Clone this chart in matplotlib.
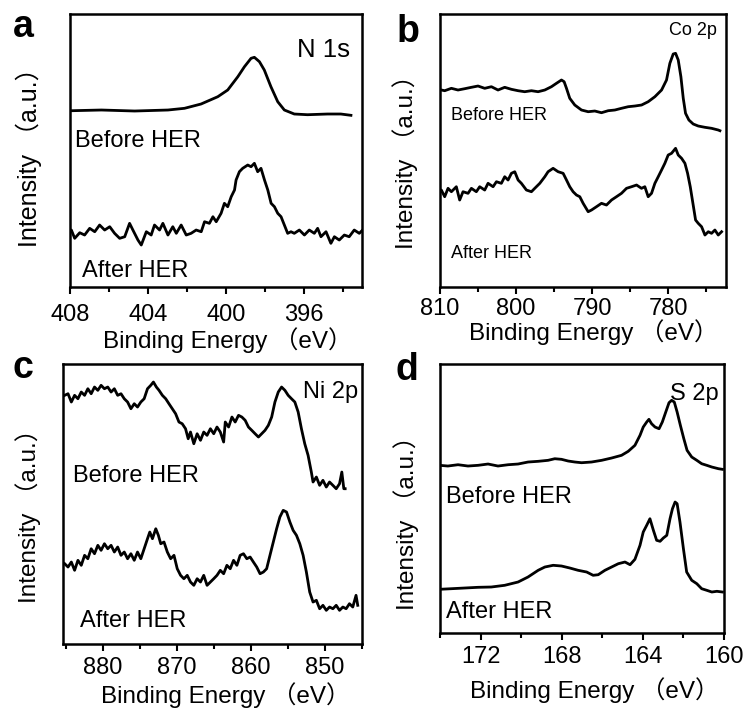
import matplotlib
matplotlib.use("Agg")
import matplotlib.pyplot as plt
from matplotlib.ticker import MultipleLocator

plt.rcParams['font.family'] = ['Liberation Sans', 'Noto Sans CJK SC']

# ---- (a) N 1s ----
be_a_before = [407.93, 406.39, 404.68, 402.97, 402.12, 401.27, 400.41, 399.90, 399.38, 399.04,
               398.70, 398.53, 398.27, 398.02, 397.68, 397.33, 396.99, 396.48, 395.80, 394.77,
               394.09, 393.57]
int_a_before = [176.3, 177.0, 176.0, 177.0, 178.7, 183.0, 190.3, 197.0, 210.3, 220.3,
                228.7, 229.7, 225.3, 217.0, 200.3, 185.3, 177.0, 173.0, 172.3, 173.0,
                173.0, 171.7]
be_a_after = [408.10, 407.93, 407.76, 407.50, 407.25, 406.99, 406.73, 406.48, 406.22, 405.96,
              405.71, 405.45, 405.19, 404.94, 404.77, 404.51, 404.34, 404.08, 403.83, 403.66,
              403.40, 403.23, 402.97, 402.72, 402.54, 402.29, 402.03, 401.78, 401.52, 401.26,
              401.09, 400.84, 400.66, 400.49, 400.24, 400.07, 399.90, 399.72, 399.55, 399.47,
              399.30, 399.13, 398.87, 398.70, 398.53, 398.36, 398.19, 398.01, 397.84, 397.67,
              397.50, 397.33, 397.16, 396.99, 396.82, 396.65, 396.48, 396.22, 395.96, 395.71,
              395.45, 395.28, 395.11, 394.85, 394.60, 394.42, 394.17, 393.91, 393.66, 393.40,
              393.14, 392.97]
int_a_after = [53.7, 57.0, 48.7, 54.3, 52.0, 58.7, 55.3, 62.0, 57.0, 60.3,
               53.7, 48.7, 50.3, 63.7, 57.0, 47.0, 42.0, 55.3, 52.0, 62.0,
               57.0, 63.7, 52.0, 60.3, 53.7, 62.0, 52.0, 53.7, 57.0, 55.3,
               65.3, 63.7, 70.3, 65.3, 73.7, 83.7, 80.3, 90.3, 97.0, 107.0,
               115.3, 118.7, 122.0, 120.3, 123.7, 115.3, 118.7, 107.0, 97.0, 83.7,
               80.3, 73.7, 70.3, 62.0, 53.7, 55.3, 53.7, 57.0, 52.0, 57.0,
               53.7, 58.7, 50.3, 55.3, 43.7, 50.3, 47.0, 52.0, 50.3, 57.0,
               53.7, 57.0]

# ---- (b) Co 2p ----
be_b_before = [810.26, 809.38, 808.50, 807.63, 806.75, 805.87, 805.00, 804.12, 803.24, 802.37,
               801.49, 800.61, 799.73, 798.86, 797.98, 797.10, 796.22, 795.35, 794.69, 794.03,
               793.68, 793.37, 792.94, 792.28, 791.40, 790.52, 789.65, 788.77, 787.89, 787.01,
               786.14, 785.26, 784.38, 783.50, 782.63, 781.75, 780.87, 780.22, 779.78, 779.34,
               779.03, 778.68, 778.33, 778.02, 777.72, 777.28, 776.71, 776.05, 775.17, 774.30,
               773.42, 773.20]
int_b_before = [197.7, 196.3, 198.7, 197.0, 198.3, 199.7, 201.0, 198.7, 200.3, 197.0,
                199.7, 197.7, 196.3, 195.3, 196.3, 195.3, 197.0, 200.3, 203.7, 207.0,
                205.3, 198.7, 188.7, 182.0, 177.0, 175.3, 176.0, 174.3, 176.3, 177.0,
                178.7, 180.3, 181.0, 182.0, 185.3, 190.3, 197.0, 207.0, 223.7, 233.0,
                233.7, 227.0, 210.3, 188.7, 173.7, 167.0, 163.0, 161.0, 159.7, 158.7,
                157.0, 156.3]
be_b_after = [810.26, 809.82, 809.38, 808.94, 808.50, 807.85, 807.41, 806.97, 806.31, 805.87,
              805.22, 804.78, 804.12, 803.68, 803.02, 802.58, 801.93, 801.49, 801.05, 800.61,
              800.17, 799.73, 799.30, 798.64, 797.98, 797.54, 796.88, 796.22, 795.79, 795.13,
              794.47, 793.81, 793.37, 792.94, 792.50, 792.06, 791.62, 791.18, 790.52, 790.08,
              789.43, 788.77, 788.11, 787.45, 786.80, 786.14, 785.48, 784.82, 784.16, 783.51,
              783.07, 782.63, 782.19, 781.75, 781.31, 780.87, 780.44, 780.00, 779.56, 779.03,
              778.68, 778.24, 777.80, 777.45, 777.10, 776.75, 776.40, 776.05, 775.61, 775.17,
              774.73, 774.30, 773.86, 773.42, 772.98]
int_b_after = [92.0, 97.0, 90.3, 98.7, 95.3, 100.3, 87.0, 95.3, 93.7, 98.7,
               95.3, 100.3, 97.0, 103.7, 100.3, 105.3, 103.7, 110.3, 107.0, 113.7,
               115.3, 107.0, 103.7, 97.0, 95.3, 98.7, 103.7, 110.3, 115.3, 118.7,
               115.3, 113.7, 107.0, 100.3, 95.3, 92.0, 90.3, 83.7, 75.3, 77.0,
               80.3, 83.7, 82.0, 87.0, 90.3, 93.7, 98.7, 100.3, 102.0, 98.7,
               100.3, 90.3, 93.7, 103.7, 110.3, 117.0, 123.7, 132.0, 133.7, 138.7,
               132.0, 128.7, 123.7, 113.7, 100.3, 83.7, 67.0, 63.7, 60.3, 52.0,
               55.3, 53.7, 57.0, 52.0, 55.3]

# ---- (c) Ni 2p ----
be_c_before = [885.17, 884.72, 884.27, 883.83, 883.38, 882.93, 882.48, 882.04, 881.59, 881.14,
               880.69, 880.25, 879.80, 879.35, 878.90, 878.46, 878.01, 877.56, 877.12, 876.67,
               876.22, 875.77, 875.33, 874.88, 874.43, 873.98, 873.54, 873.18, 872.78, 872.42,
               871.97, 871.52, 871.08, 870.63, 870.18, 869.73, 869.29, 868.84, 868.48, 868.17,
               867.72, 867.27, 866.82, 866.38, 865.93, 865.48, 865.03, 864.59, 864.14, 863.69,
               863.47, 863.02, 862.57, 862.13, 861.68, 861.23, 860.78, 860.34, 859.89, 859.44,
               858.99, 858.55, 858.10, 857.65, 857.20, 856.76, 856.31, 855.86, 855.41, 854.97,
               854.52, 854.07, 853.62, 853.18, 852.73, 852.28, 851.84, 851.61, 851.16, 850.72,
               850.27, 849.82, 849.38, 848.93, 848.48, 848.03, 847.72, 847.45, 847.27]
int_c_before = [248.7, 250.3, 242.0, 248.7, 245.3, 252.0, 248.7, 255.3, 250.3, 257.0,
                253.7, 258.7, 255.3, 257.0, 252.0, 255.3, 248.7, 250.3, 245.3, 242.0,
                235.3, 240.3, 237.0, 242.0, 245.3, 255.3, 258.7, 262.0, 257.0, 253.7,
                248.7, 245.3, 240.3, 235.3, 230.3, 222.0, 220.3, 215.3, 205.3, 212.0,
                200.3, 210.3, 203.7, 212.0, 208.7, 215.3, 210.3, 217.0, 212.0, 202.0,
                222.0, 217.0, 227.0, 222.0, 228.7, 227.0, 223.7, 217.0, 213.7, 210.3,
                207.0, 210.3, 213.7, 218.7, 227.0, 242.0, 252.0, 257.0, 253.7, 248.7,
                245.3, 242.0, 232.0, 215.3, 200.3, 188.7, 172.0, 162.0, 167.0, 158.7,
                163.7, 157.0, 162.0, 158.7, 155.3, 160.3, 172.0, 155.3, 155.3]
be_c_after = [885.17, 884.72, 884.27, 883.83, 883.38, 882.93, 882.48, 882.04, 881.59, 881.14,
              880.69, 880.25, 879.80, 879.35, 878.90, 878.46, 878.01, 877.56, 877.12, 876.67,
              876.22, 875.77, 875.33, 874.88, 874.43, 873.98, 873.67, 873.31, 872.86, 872.51,
              872.19, 871.75, 871.30, 870.85, 870.40, 869.96, 869.51, 869.06, 868.61, 868.17,
              867.72, 867.27, 866.82, 866.38, 865.93, 865.48, 865.03, 864.59, 864.14, 863.69,
              863.25, 862.80, 862.35, 861.90, 861.46, 861.01, 860.56, 860.11, 859.67, 859.22,
              858.77, 858.32, 857.88, 857.43, 856.98, 856.53, 856.09, 855.64, 855.19, 854.74,
              854.30, 853.85, 853.40, 852.95, 852.51, 852.06, 851.61, 851.16, 850.72, 850.27,
              849.82, 849.38, 848.93, 848.48, 848.03, 847.58, 847.14, 846.69, 846.24, 845.80,
              845.57]
int_c_after = [80.3, 77.0, 82.0, 73.7, 83.7, 78.7, 88.7, 85.3, 95.3, 90.3,
               98.7, 93.7, 100.3, 95.3, 98.7, 92.0, 97.0, 88.7, 92.0, 85.3,
               90.3, 83.7, 92.0, 85.3, 95.3, 105.3, 112.0, 105.3, 115.3, 108.7,
               100.3, 102.0, 92.0, 85.3, 88.7, 75.3, 68.7, 65.3, 68.7, 62.0,
               58.7, 65.3, 62.0, 68.7, 58.7, 62.0, 65.3, 68.7, 73.7, 70.3,
               78.7, 75.3, 83.7, 78.7, 88.7, 90.3, 85.3, 87.0, 82.0, 77.0,
               70.3, 72.0, 75.3, 88.7, 102.0, 115.3, 127.0, 133.7, 132.0, 122.0,
               113.7, 108.7, 100.3, 88.7, 72.0, 52.0, 42.0, 43.7, 35.3, 38.7,
               33.7, 37.0, 35.3, 38.7, 33.7, 37.0, 35.3, 40.3, 37.0, 48.7,
               38.7]

# ---- (d) S 2p ----
be_d_before = [174.02, 173.61, 173.11, 172.62, 172.12, 171.63, 171.14, 170.64, 170.15, 169.66,
               169.16, 168.67, 168.34, 168.01, 167.68, 167.35, 167.02, 166.53, 166.03, 165.54,
               165.05, 164.72, 164.39, 164.14, 163.98, 163.81, 163.70, 163.57, 163.40, 163.20,
               163.04, 162.87, 162.71, 162.58, 162.45, 162.31, 162.15, 161.98, 161.82, 161.59,
               161.34, 161.10, 160.85, 160.60, 160.27, 160.08]
int_d_before = [167.7, 167.0, 168.3, 167.0, 167.7, 169.0, 167.0, 168.3, 169.0, 171.0,
                171.7, 172.7, 174.3, 173.7, 172.0, 171.0, 170.3, 171.0, 172.7, 175.0,
                177.7, 181.7, 187.7, 197.7, 206.0, 211.0, 213.7, 209.3, 206.0, 204.3,
                211.0, 221.0, 230.3, 232.7, 231.0, 221.0, 207.7, 194.3, 182.7, 176.0,
                172.7, 169.3, 167.7, 166.0, 164.3, 163.7]
be_d_after = [174.02, 173.44, 172.78, 172.12, 171.47, 170.81, 170.15, 169.66, 169.16, 168.83,
              168.42, 168.01, 167.60, 167.19, 166.77, 166.45, 166.20, 165.87, 165.54, 165.21,
              164.88, 164.63, 164.39, 164.14, 163.98, 163.81, 163.65, 163.48, 163.32, 163.15,
              162.99, 162.82, 162.66, 162.54, 162.41, 162.31, 162.17, 162.00, 161.84, 161.59,
              161.34, 161.10, 160.85, 160.60, 160.35, 160.08]
int_d_after = [43.7, 44.3, 45.0, 45.7, 46.0, 47.7, 51.0, 56.0, 62.7, 66.0,
               67.7, 67.0, 65.0, 62.7, 61.0, 57.7, 58.3, 62.7, 66.0, 69.3,
               71.0, 68.3, 73.7, 87.7, 101.0, 107.7, 114.3, 102.7, 92.7, 91.7,
               95.0, 97.7, 114.3, 124.3, 131.0, 129.3, 111.0, 84.3, 61.0, 52.7,
               49.3, 44.3, 42.7, 41.0, 41.7, 41.0]

PANELS = [
    dict(letter='a', title='N 1s', xlim=(408, 393.0), ylim=(0, 273), major=4, minor=2,
         before=(be_a_before, int_a_before), after=(be_a_after, int_a_after)),
    dict(letter='b', title='Co 2p', xlim=(810, 772.4), ylim=(0, 273), major=10, minor=5,
         before=(be_b_before, int_b_before), after=(be_b_after, int_b_after)),
    dict(letter='c', title='Ni 2p', xlim=(885.4, 845), ylim=(0, 280), major=10, minor=5,
         before=(be_c_before, int_c_before), after=(be_c_after, int_c_after)),
    dict(letter='d', title='S 2p', xlim=(174, 160), ylim=(0, 269), major=4, minor=2,
         before=(be_d_before, int_d_before), after=(be_d_after, int_d_after)),
]

# layout (figure fractions) and text placement per panel
RECTS = [(0.0936, 0.5963, 0.3904, 0.3840), (0.5882, 0.5963, 0.3824, 0.3840),
         (0.0842, 0.0942, 0.3997, 0.3938), (0.5882, 0.1097, 0.3797, 0.3783)]
LETTER_POS = [(0.017, 0.948), (0.530, 0.941), (0.017, 0.468), (0.529, 0.4655)]
TEXT_SIZE = [17, 13, 17, 17]
TITLE_SIZE = [18.5, 13, 17, 17]
TITLE_POS = [(0.959, 0.842), (0.969, 0.923), (0.987, 0.879), (0.982, 0.866)]
BEFORE_POS = [(0.017, 0.513), (0.038, 0.612), (0.033, 0.579), (0.021, 0.483)]
AFTER_POS = [(0.041, 0.037), (0.038, 0.106), (0.057, 0.061), (0.021, 0.056)]
# the full-width brackets carry blank space, so the labels sit a little off-centre
XLABEL_POS = [(0.541, -0.195), (0.538, -0.165), (0.543, -0.182), (0.546, -0.212)]
YLABEL_POS = [(-0.140, 0.498), (-0.122, 0.479), (-0.117, 0.479), (-0.120, 0.431)]
YLABEL_SIZE = [18, 17.5, 17.5, 17.5]
TICK_PAD = [7, 3, 4, 4]


def draw_panel(fig, i, p):
    ax = fig.add_axes(RECTS[i])
    x, y = p['before']
    ax.plot(x, y, color='black', lw=2.0)
    x, y = p['after']
    ax.plot(x, y, color='black', lw=2.0)

    ax.set_xlim(*p['xlim'])
    ax.set_ylim(*p['ylim'])
    ax.xaxis.set_major_locator(MultipleLocator(p['major']))
    ax.xaxis.set_minor_locator(MultipleLocator(p['minor']))
    ax.set_yticks([])
    ax.tick_params(axis='x', which='major', direction='out', length=5, width=1.5,
                   labelsize=17, pad=TICK_PAD[i])
    ax.tick_params(axis='x', which='minor', direction='out', length=3.5, width=1.5)
    for s in ax.spines.values():
        s.set_linewidth(1.8)

    size = TEXT_SIZE[i]
    ax.text(*TITLE_POS[i], p['title'], transform=ax.transAxes, ha='right',
            va='baseline', fontsize=TITLE_SIZE[i])
    ax.text(*BEFORE_POS[i], 'Before HER', transform=ax.transAxes, ha='left',
            va='baseline', fontsize=size)
    ax.text(*AFTER_POS[i], 'After HER', transform=ax.transAxes, ha='left',
            va='baseline', fontsize=size)

    ax.set_xlabel('Binding Energy （eV）', fontsize=17.5, va='center')
    ax.xaxis.set_label_coords(*XLABEL_POS[i])
    ax.set_ylabel('Intensity （a.u.）', fontsize=YLABEL_SIZE[i], va='center')
    ax.yaxis.set_label_coords(*YLABEL_POS[i])

    fig.text(*LETTER_POS[i], p['letter'], fontsize=27, fontweight='bold',
             ha='left', va='baseline')
    return ax


def main():
    fig = plt.figure(figsize=(7.48, 7.11), dpi=100)
    for i, p in enumerate(PANELS):
        draw_panel(fig, i, p)
    fig.savefig('out.png', dpi=100)
    plt.close(fig)
    print("✓ Saved: out.png")


if __name__ == "__main__":
    main()
